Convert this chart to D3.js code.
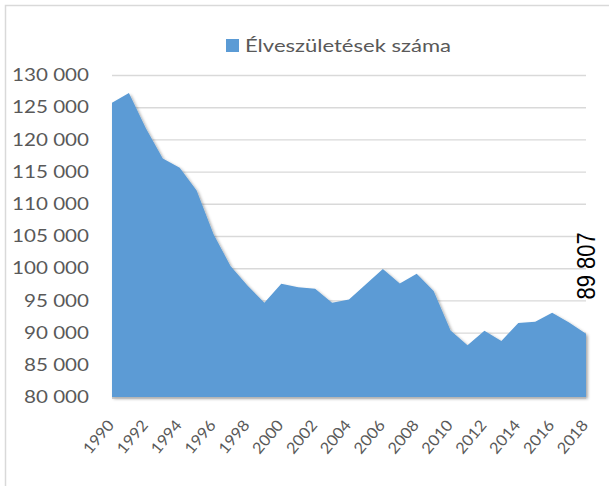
<!DOCTYPE html>
<html>
<head>
<meta charset="utf-8">
<script src="https://cdn.jsdelivr.net/npm/d3@7"></script>
<style>
  body { margin: 0; background: #fff; }
  svg { display: block; }
</style>
</head>
<body>
<div id="chart"></div>
<script>
// data: élveszületések száma, 1990-2018
const years = d3.range(1990, 2019)
const births = [125679, 127207, 121724, 117033, 115598, 112054, 105272, 100350, 97301, 94645,
    97597, 97047, 96804, 94647, 95137, 97496, 99871, 97613, 99149, 96442,
    90335, 88050, 90269, 88689, 91510, 91690, 93063, 91577, 89807]
const yTicks = [80000, 85000, 90000, 95000, 100000, 105000, 110000, 115000, 120000, 125000, 130000]
const xTickYears = d3.range(1990, 2019, 2)
const seriesName = 'Élveszületések száma'

const width = 609, height = 486
const margin = { top: 75, right: 23, bottom: 89, left: 112 }
const innerW = width - margin.left - margin.right,
    innerH = 397 - margin.top

const svg = d3.select('#chart')
    .append('svg')
    .attr('width', width)
    .attr('height', height)

// drop shadow like the spreadsheet area
const defs = svg.append('defs')
const f = defs.append('filter').attr('id', 'shadow')
    .attr('x', '-5%').attr('y', '-5%').attr('width', '110%').attr('height', '110%')
f.append('feDropShadow')
    .attr('dx', 1.8).attr('dy', 1.8).attr('stdDeviation', 1.4)
    .attr('flood-color', '#000').attr('flood-opacity', 0.35)

// outer chart border
svg.append('rect')
    .attr('x', 5.5).attr('y', 5.5)
    .attr('width', 800).attr('height', 700)
    .attr('fill', 'none')
    .attr('stroke', '#d9d9d9')
    .attr('stroke-width', 1.5)

const g = svg.append('g')
    .attr('transform', 'translate(' + margin.left + ',' + margin.top + ')')

const x = d3.scaleLinear().domain([1990, 2018]).range([0, innerW])
const y = d3.scaleLinear().domain([80000, 130000]).range([innerH, 0])

// gridlines
g.append('g')
    .call(d3.axisLeft(y).tickValues(yTicks).tickSize(-innerW).tickFormat(''))
    .call(a => a.select('.domain').remove())
    .selectAll('line')
    .attr('stroke', '#d9d9d9')
    .attr('stroke-width', 1.4)

// area
const area = d3.area()
    .x((d, i) => x(years[i]))
    .y0(y(80000))
    .y1(d => y(d))

g.append('path')
    .datum(births)
    .attr('d', area)
    .attr('fill', '#5b9bd5')
    .attr('filter', 'url(#shadow)')

// bottom axis line
g.append('line')
    .attr('x1', 0).attr('x2', innerW)
    .attr('y1', innerH + 1).attr('y2', innerH + 1)
    .attr('stroke', '#bfbfbf')
    .attr('stroke-width', 1.3)

// y labels (stretched horizontally like the source)
const yLab = g.append('g').attr('font-family', 'Lato, sans-serif').attr('font-size', 17).attr('fill', '#595959')
const probe = yLab.append('text').text('130 000')
const sx = 77 / probe.node().getComputedTextLength()
probe.remove()
yLab.selectAll('text')
    .data(yTicks)
    .enter()
    .append('text')
    .attr('transform', d => 'translate(' + (-23) + ',' + y(d) + ') scale(' + sx + ',1)')
    .attr('text-anchor', 'end')
    .attr('dy', '0.36em')
    .text(d => d3.format(',')(d).replace(/,/g, ' '))

// x labels
g.append('g')
    .attr('font-family', 'Lato, sans-serif').attr('font-size', 15.5).attr('fill', '#595959')
    .selectAll('text')
    .data(xTickYears)
    .enter()
    .append('text')
    .attr('transform', d => 'translate(' + (x(d) + 3) + ',' + (innerH + 28.5) + ') rotate(-50)')
    .attr('text-anchor', 'end')
    .attr('textLength', 38.5)
    .attr('lengthAdjust', 'spacingAndGlyphs')
    .text(d => d)

// data label for the last point
const last = births[births.length - 1]
g.append('text')
    .attr('transform', 'translate(' + (x(2018) + 9) + ',' + (y(last) - 68) + ') scale(1.2,1) rotate(-90)')
    .attr('text-anchor', 'middle')
    .attr('font-family', 'Liberation Sans, Arial, sans-serif')
    .attr('font-size', 22)
    .attr('fill', '#000')
    .text(d3.format(',')(last).replace(/,/g, ' '))

// legend
const leg = svg.append('g')
leg.append('rect')
    .attr('x', 226).attr('y', 39)
    .attr('width', 13).attr('height', 13)
    .attr('fill', '#5b9bd5')
leg.append('text')
    .attr('x', 245).attr('y', 51.5)
    .attr('font-family', 'Lato, sans-serif')
    .attr('font-size', 17)
    .attr('fill', '#595959')
    .attr('textLength', 206)
    .attr('lengthAdjust', 'spacingAndGlyphs')
    .text(seriesName)
</script>
</body>
</html>
